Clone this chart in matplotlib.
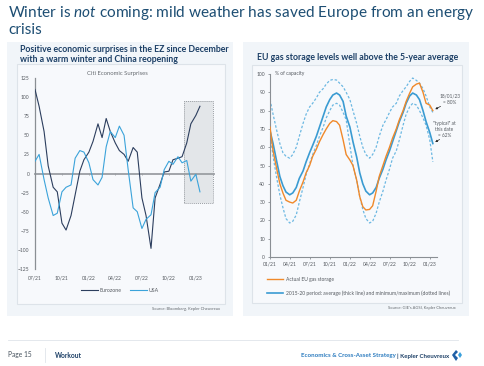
import numpy as np
import pandas as pd
import matplotlib
matplotlib.use("Agg")
import matplotlib.pyplot as plt
import matplotlib.dates as mdates
from matplotlib.patches import Rectangle, Polygon
from matplotlib.lines import Line2D

plt.rcParams['font.family'] = ['Lato', 'DejaVu Sans']
plt.rcParams['mathtext.fontset'] = 'custom'
plt.rcParams['mathtext.it'] = 'Lato:italic'
plt.rcParams['mathtext.rm'] = 'Lato'

W, H = 484, 366

# --- left chart: Citi Economic Surprises (semi-monthly reading) ---
surprise_dates = pd.date_range('2021-07-01', '2023-01-16', freq='SMS')
eurozone = [110, 88, 55, 10, -18, -24, -65, -74, -55, -28,
            3, 18, 28, 42, 65, 47, 72, 55, 40, 30,
            25, 16, 34, 28, -32, -55, -98, -32, -14, 2,
            3, 18, 20, 22, 40, 65, 76, 88]
usa = [16, 25, -8, -32, -55, -52, -24, -18, -15, 20,
       30, 28, 14, -8, -15, -5, 35, 55, 47, 62,
       50, 5, -45, -50, -72, -60, -54, -25, -18, 5,
       16, 12, 22, 14, 17, -10, -1, -24]
highlight_start, highlight_end = '2022-11-20', '2023-03-02'
highlight_low, highlight_high = -38, 95

# --- right chart: EU gas storage, % of capacity ---
gas_dates = pd.date_range('2021-01-01', '2023-01-16', freq='SMS')
actual = [71, 58, 48, 40, 35, 31, 30, 29.5, 31, 36, 41, 46, 50, 55, 59, 63, 67, 70, 73, 74.5, 74, 72, 64, 56,
          53, 50, 42, 33, 27.5, 25.7, 26, 28, 36, 44, 50, 55, 60, 65, 70, 75, 80, 85, 89.5, 93, 94.5, 95, 90, 84,
          83, 80]
avg_1520 = [69, 62, 52, 44, 39, 35.5, 34, 35, 38, 43, 47, 52, 57, 61, 66, 71, 77, 82, 86, 88.5, 89.6, 88.5, 85, 77,
            71, 63, 54.6, 46, 40, 36, 34, 35, 38, 43, 48, 53, 58, 63, 69, 74, 79, 84, 88, 89.6, 88.5, 86, 80, 74,
            68, 62]
max_1520 = [86, 78, 69, 62, 57, 55, 54, 56, 60, 66, 73, 78, 82, 84, 87, 90, 92, 94.5, 96.5, 97, 96.7, 95, 93, 90,
            86, 80, 73, 66, 60, 56, 54, 56, 60, 66, 72, 75, 79, 82, 84, 88, 91, 93, 96, 97.8, 96.5, 95, 92, 88,
            82, 79]
min_1520 = [68, 55, 43, 34, 27, 21, 18.6, 19.5, 23, 30, 38, 45, 51, 56, 61, 66, 71, 76, 80, 83, 84, 83, 79, 75,
            61, 50, 42, 33, 26, 21, 18.6, 19.5, 24, 30, 36, 42, 48, 54, 58, 64, 72, 78, 82, 84, 83, 80, 76, 72,
            64, 52]

NAVY = '#1c3f66'
TITLE = '#1d4e73'
EZ = '#2c3e5e'
US = '#3ba3da'
ORANGE = '#f0892a'
BLUE = '#3a9bd2'
DOT = '#6cb8e2'
GREY = '#8a8f94'
PANEL = '#f1f5f9'
INNER = '#f7f9fc'


def fx(x):
    return x / W


def fy(y):
    return 1 - y / H


def add_ax(x0, y0, x1, y1):
    return fig.add_axes([fx(x0), fy(y1), (x1 - x0) / W, (y1 - y0) / H])


def ftext(x, y, s, **kw):
    fig.text(fx(x), fy(y), s, **kw)


fig = plt.figure(figsize=(W / 100, H / 100), dpi=100)
fig.patch.set_facecolor('white')

# page title
ftext(8, 13, 'Winter is $\\it{not}$ coming: mild weather has saved Europe from an energy',
      fontsize=11.1, color=TITLE, va='center')
ftext(8, 30, 'crisis', fontsize=11.1, color=TITLE, va='center')

# panels
for (x0, y0, x1, y1) in [(7, 42, 233, 316), (243, 42, 469, 316)]:
    fig.add_artist(Rectangle((fx(x0), fy(y1)), (x1 - x0) / W, (y1 - y0) / H,
                             transform=fig.transFigure, facecolor=PANEL, edgecolor='none', zorder=0))
for (x0, y0, x1, y1) in [(17, 64, 225, 304), (252, 65, 462, 303)]:
    fig.add_artist(Rectangle((fx(x0), fy(y1)), (x1 - x0) / W, (y1 - y0) / H,
                             transform=fig.transFigure, facecolor=INNER, edgecolor='#dde3e9',
                             linewidth=0.8, zorder=0))

ftext(20, 49, 'Positive economic surprises in the EZ since December', fontsize=6.3,
      fontweight='bold', color=NAVY, va='center')
ftext(20, 60, 'with a warm winter and China reopening', fontsize=6.3,
      fontweight='bold', color=NAVY, va='center')
ftext(257, 58, 'EU gas storage levels well above the 5-year average', fontsize=6.3,
      fontweight='bold', color=NAVY, va='center')

# ---------------- left chart ----------------
ax1 = add_ax(35, 78, 214, 269)
ax1.set_facecolor('none')
ax1.set_xlim(pd.Timestamp('2021-07-01'), pd.Timestamp('2023-03-04'))
ax1.set_ylim(-125, 125)
hs, he = mdates.date2num(pd.Timestamp(highlight_start)), mdates.date2num(pd.Timestamp(highlight_end))
ax1.add_patch(Rectangle((hs, highlight_low), he - hs, highlight_high - highlight_low,
                        facecolor='#e3e6e9', edgecolor='none', zorder=1))
ax1.add_patch(Rectangle((hs, highlight_low), he - hs, highlight_high - highlight_low,
                        fill=False, edgecolor='#9a9ea3', linestyle=(0, (1, 1)), linewidth=0.7, zorder=1.5))
l_ez, = ax1.plot(surprise_dates, eurozone, color=EZ, lw=0.8, zorder=3, label='Eurozone')
l_us, = ax1.plot(surprise_dates, usa, color=US, lw=0.8, zorder=3, label='USA')
for s in ['top', 'right']:
    ax1.spines[s].set_visible(False)
ax1.spines['left'].set_color(GREY)
ax1.spines['left'].set_linewidth(0.9)
ax1.spines['bottom'].set_position(('data', 0))
ax1.spines['bottom'].set_color('#9a9ea3')
ax1.spines['bottom'].set_linewidth(1.3)
ax1.spines['bottom'].set_zorder(2)
ax1.set_yticks(range(-125, 126, 25))
ax1.tick_params(axis='y', length=0, labelsize=3.6, labelcolor='#555a60', pad=4)
ax1.xaxis.set_major_locator(mdates.MonthLocator(bymonth=[1, 4, 7, 10]))
ax1.tick_params(axis='x', length=1.5, width=0.6, color='#9a9ea3', direction='inout', labelbottom=False)
sec = ax1.secondary_xaxis(location=0)
sec.xaxis.set_major_locator(mdates.MonthLocator(bymonth=[1, 4, 7, 10]))
sec.xaxis.set_major_formatter(mdates.DateFormatter('%m/%y'))
sec.spines['bottom'].set_visible(False)
sec.tick_params(axis='x', length=0, labelsize=3.6, labelcolor='#555a60', pad=5)
ftext(117, 74, 'Citi Economic Surprises', fontsize=4.2, color='#666b70', ha='center', va='center')
fig.legend(handles=[l_ez, l_us], loc='center', bbox_to_anchor=(fx(120), fy(290)), ncol=2,
           frameon=False, fontsize=3.8, handlelength=3.2, handletextpad=0.4, columnspacing=1.5,
           labelcolor='#555a60')
ftext(220, 309, 'Source: Bloomberg, Kepler Cheuvreux', fontsize=3, color='#666b70',
      ha='right', va='center')

# ---------------- right chart ----------------
ax2 = add_ax(270, 74, 437, 257)
ax2.set_facecolor('none')
ax2.set_xlim(pd.Timestamp('2021-01-01'), pd.Timestamp('2023-02-03'))
ax2.set_ylim(0, 100)
ax2.plot(gas_dates, max_1520, color=DOT, lw=0.9, linestyle=(0, (2, 1.5)), zorder=2)
ax2.plot(gas_dates, min_1520, color=DOT, lw=0.9, linestyle=(0, (2, 1.5)), zorder=2)
l_avg, = ax2.plot(gas_dates, avg_1520, color=BLUE, lw=1.2, zorder=3,
                  label='2015-20 period: average (thick line) and minimum/maximum (dotted lines)')
l_act, = ax2.plot(gas_dates, actual, color=ORANGE, lw=1.0, zorder=4, label='Actual EU gas storage')
for s in ['top', 'right']:
    ax2.spines[s].set_visible(False)
for s in ['left', 'bottom']:
    ax2.spines[s].set_color(GREY)
    ax2.spines[s].set_linewidth(0.8)
ax2.set_yticks(range(0, 101, 10))
ax2.xaxis.set_major_locator(mdates.MonthLocator(bymonth=[1, 4, 7, 10]))
ax2.xaxis.set_major_formatter(mdates.DateFormatter('%m/%y'))
ax2.tick_params(length=1.5, width=0.6, color=GREY, labelsize=3.6, labelcolor='#555a60', pad=2)
ftext(275, 74, '% of capacity', fontsize=3.6, color='#555a60', va='center')

ftext(440, 96, '18/01/23', fontsize=3.4, color='#555a60', va='center')
ftext(443, 102, '= 80%', fontsize=3.4, color='#555a60', va='center')
ftext(433, 123, '"typical" at', fontsize=3.4, color='#555a60', va='center')
ftext(435, 129, 'this date', fontsize=3.4, color='#555a60', va='center')
ftext(438, 135, '= 62%', fontsize=3.4, color='#555a60', va='center')
ax2.annotate('', xy=(gas_dates[-1], actual[-1]), xytext=(fx(443), fy(105)),
             textcoords='figure fraction',
             arrowprops=dict(arrowstyle='-|>', color='#222', lw=0.5, mutation_scale=3))
ax2.annotate('', xy=(gas_dates[-1], avg_1520[-1]), xytext=(fx(442), fy(138)),
             textcoords='figure fraction',
             arrowprops=dict(arrowstyle='-|>', color='#222', lw=0.5, mutation_scale=3))

fig.legend(handles=[l_act, l_avg], loc='upper left', bbox_to_anchor=(fx(262), fy(272)), ncol=1,
           frameon=False, fontsize=3.6, handlelength=3.2, handletextpad=0.6, labelspacing=1.7,
           labelcolor='#555a60')
ftext(456, 308, "Source: GIE's AGSI, Kepler Cheuvreux", fontsize=3, color='#666b70',
      ha='right', va='center')

# ---------------- footer ----------------
fig.add_artist(Line2D([fx(8), fx(458)], [fy(340), fy(340)], color='#dfe4ea', lw=0.6))
fig.add_artist(Line2D([fx(45), fx(45)], [fy(348), fy(362)], color='#dfe4ea', lw=0.6))
ftext(8, 355, 'Page 15', fontsize=4.8, color='#44505c', va='center')
ftext(55, 355, 'Workout', fontsize=4.8, color=NAVY, fontweight='bold', va='center')
ftext(396, 356, 'Economics & Cross-Asset Strategy', fontsize=4.4, color='#2b7bbf',
      fontweight='bold', va='center', ha='right')
ftext(397, 356, '| Kepler Cheuvreux', fontsize=4.4, color=NAVY, fontweight='bold', va='center')
logo = [
    [(452, 355), (456, 350), (458, 352), (455, 355), (458, 358), (456, 361)],
    [(458, 355), (460, 352), (462, 355), (460, 358)],
]
for i, pts in enumerate(logo):
    fig.add_artist(Polygon([(fx(a), fy(b)) for a, b in pts], closed=True,
                           transform=fig.transFigure, facecolor=['#1f5fa6', '#3aa0dc'][i],
                           edgecolor='none'))

fig.savefig('out.png', dpi=100)
